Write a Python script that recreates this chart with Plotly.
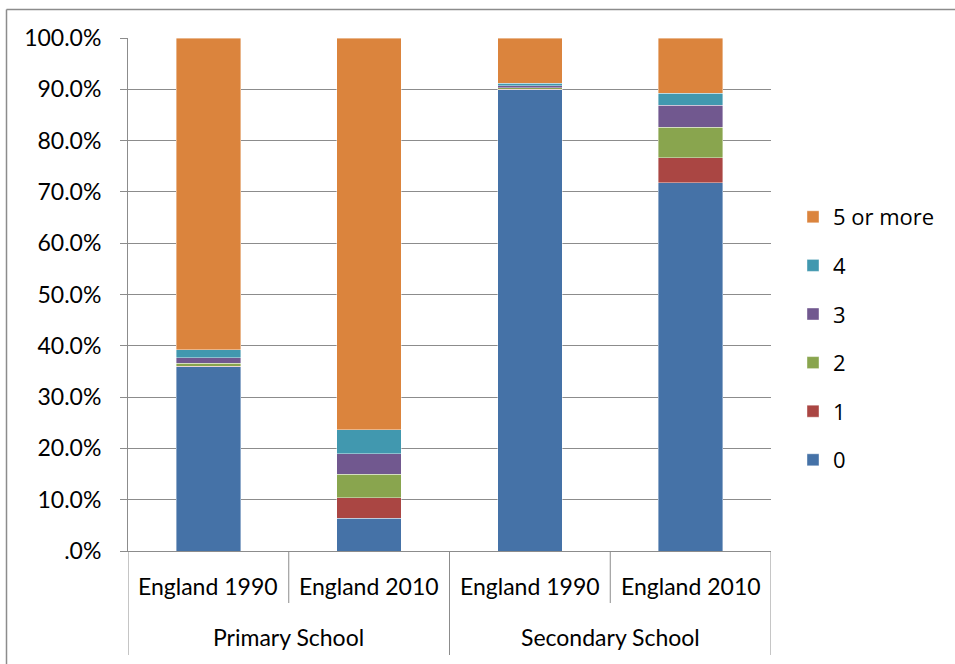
import plotly.graph_objects as go

# categories (two-level axis)
groups = ["Primary School", "Secondary School"]
years = ["England 1990", "England 2010", "England 1990", "England 2010"]

# share of pupils in each band (fractions)
s0 = [0.359, 0.064, 0.899, 0.718]
s1 = [0.001, 0.040, 0.001, 0.049]
s2 = [0.006, 0.046, 0.003, 0.059]
s3 = [0.011, 0.040, 0.004, 0.043]
s4 = [0.015, 0.046, 0.005, 0.023]
s5 = [0.608, 0.764, 0.088, 0.108]

series_names = ["0", "1", "2", "3", "4", "5 or more"]
series_vals = [s0, s1, s2, s3, s4, s5]
colors = ["#4572A7", "#AA4643", "#89A54E", "#71588F", "#4198AF", "#DB843D"]

y_ticks = [i / 10 for i in range(11)]
y_labels = [".0%", "10.0%", "20.0%", "30.0%", "40.0%", "50.0%",
            "60.0%", "70.0%", "80.0%", "90.0%", "100.0%"]

FONT = "Lato"
LFONT = "Open Sans"
GRID = "#8c8c8c"
L, R, T, B = 128, 184, 38, 113
PW, PH = 955 - L - R, 664 - T - B
xpos = list(range(len(years)))

fig = go.Figure()
for i, (name, vals, col) in enumerate(zip(series_names, series_vals, colors)):
    fig.add_trace(go.Bar(
        x=xpos, y=vals, name=name, width=0.4,
        marker=dict(color=col, line=dict(color="rgba(255,255,255,0.5)", width=0.8)),
        legendgroup=name, legendrank=len(series_names) - i,
    ))

shapes = []
# category dividers under the axis
for i in range(len(years) + 1):
    outer = i % 2 == 0
    shapes.append(dict(type="line", xref="x", yref="paper",
                       x0=i - 0.5, x1=i - 0.5, y0=0,
                       y1=-104 / PH if outer else -52 / PH,
                       line=dict(color=GRID, width=1)))
# chart border (left and top edges visible)
shapes.append(dict(type="line", xref="paper", yref="paper",
                   x0=(6.5 - L) / PW, x1=(6.5 - L) / PW,
                   y0=(T + PH - 664) / PH, y1=(T + PH - 9.5) / PH,
                   line=dict(color="#8c8c8c", width=1.5)))
shapes.append(dict(type="line", xref="paper", yref="paper",
                   x0=(6.5 - L) / PW, x1=(955 - L) / PW,
                   y0=(T + PH - 9.5) / PH, y1=(T + PH - 9.5) / PH,
                   line=dict(color="#8c8c8c", width=1.5)))

annotations = []
for i, yr in enumerate(years):
    annotations.append(dict(x=i, y=0, xref="x", yref="paper", yshift=-51,
                            text=yr, showarrow=False,
                            font=dict(family=FONT, size=23, color="#000000")))
for g, grp in enumerate(groups):
    annotations.append(dict(x=2 * g + 0.5, y=0, xref="x", yref="paper", yshift=-102,
                            text=grp, showarrow=False,
                            font=dict(family=FONT, size=23, color="#000000")))

fig.update_layout(
    barmode="stack",
    width=955, height=664,
    margin=dict(l=L, r=R, t=T, b=B),
    paper_bgcolor="white", plot_bgcolor="white",
    font=dict(family=FONT, size=23, color="#000000"),
    xaxis=dict(range=[-0.5, 3.5], showticklabels=False, showgrid=False,
               zeroline=False, showline=True, linecolor=GRID, linewidth=1,
               fixedrange=True),
    yaxis=dict(range=[0, 1], tickvals=y_ticks, ticktext=y_labels,
               showgrid=True, gridcolor=GRID, gridwidth=1,
               showline=True, linecolor=GRID, linewidth=1,
               ticks="outside", ticklen=7, tickcolor=GRID,
               ticklabelstandoff=14,
               zeroline=False, tickfont=dict(family=FONT, size=23)),
    legend=dict(traceorder="grouped", tracegroupgap=17,
                x=(793 - L) / PW, xanchor="left",
                y=(T + PH - 338.5) / PH, yanchor="middle",
                font=dict(family=LFONT, size=22)),
    shapes=shapes,
    annotations=annotations,
)

fig.write_html("out.html", config={"displayModeBar": False},
               post_script="document.body.style.margin='0';")
